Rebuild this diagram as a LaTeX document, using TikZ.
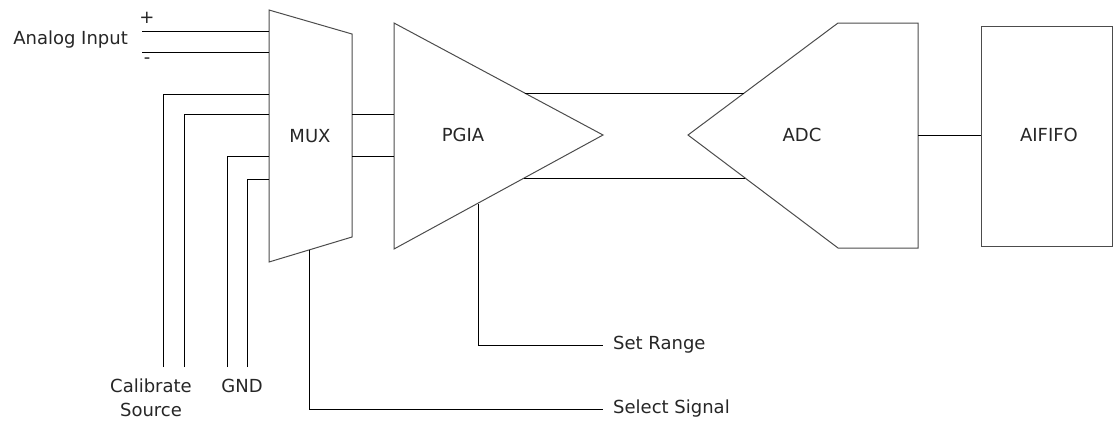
\documentclass[tikz,border=0pt]{standalone}
\usepackage{fontspec}
\setmainfont{DejaVu Sans}
\begin{document}
\begin{tikzpicture}[x=1pt,y=-1pt,
  shapeline/.style={draw=black!70, line width=1pt, line join=miter},
  wire/.style={draw=black, line width=1pt},
  lbl/.style={font=\fontsize{18}{24}\selectfont, text=black!85, inner sep=0pt}]
\useasboundingbox (0,0) rectangle (1113,421);

% MUX
\draw[shapeline] (269,10) -- (352,34) -- (352,237) -- (269,262) -- cycle;
\node[lbl] (mux) at (310,136) {MUX};
% PGIA
\draw[shapeline] (394,23) -- (603,135) -- (394,249) -- cycle;
\node[lbl] (pgia) at (463,135) {PGIA};
% ADC
\draw[shapeline] (688,135) -- (838,23) -- (918,23) -- (918,248) -- (838,248) -- cycle;
\node[lbl] (adc) at (802,135) {ADC};
% AIFIFO
\draw[shapeline] (981,26) rectangle (1112,246);
\node[lbl] (aififo) at (1049,135) {AIFIFO};

% labels
\node[lbl, anchor=east] (ain) at (128,40) {Analog Input};
\node[lbl] (plus) at (147,18) {+};
\node[lbl] (minus) at (147,61) {-};
\node[lbl, align=center] (cal) at (151,398) {Calibrate\\Source};
\node[lbl] (gnd) at (242,386) {GND};
\node[lbl, anchor=west] (setr) at (613,345) {Set Range};
\node[lbl, anchor=west] (sels) at (613,409) {Select Signal};

% coordinates
\coordinate (ainP) at (142,31);  \coordinate (muxP) at (269,31);
\coordinate (ainM) at (142,52);  \coordinate (muxM) at (269,52);
\coordinate (calA) at (163,367); \coordinate (muxCA) at (269,94);
\coordinate (calB) at (184,367); \coordinate (muxCB) at (269,114);
\coordinate (gndA) at (227,367); \coordinate (muxGA) at (269,156);
\coordinate (gndB) at (247,367); \coordinate (muxGB) at (269,179);
\coordinate (muxO1) at (352,114); \coordinate (pgiaI1) at (394,114);
\coordinate (muxO2) at (352,156); \coordinate (pgiaI2) at (394,156);
\coordinate (pgiaT) at (525,93);  \coordinate (adcT) at (744,93);
\coordinate (pgiaB) at (524,178); \coordinate (adcB) at (745,178);
\coordinate (adcO) at (918,135);  \coordinate (fifoI) at (981,135);
\coordinate (pgiaR) at (478,204); \coordinate (setrE) at (603,345);
\coordinate (muxS) at (309,250);  \coordinate (selsE) at (603,409);

% wires
\draw[wire] (ainP) -- (muxP);
\draw[wire] (ainM) -- (muxM);
\draw[wire] (calA) |- (muxCA);
\draw[wire] (calB) |- (muxCB);
\draw[wire] (gndA) |- (muxGA);
\draw[wire] (gndB) |- (muxGB);
\draw[wire] (muxO1) -- (pgiaI1);
\draw[wire] (muxO2) -- (pgiaI2);
\draw[wire] (pgiaT) -- (adcT);
\draw[wire] (pgiaB) -- (adcB);
\draw[wire] (adcO) -- (fifoI);
\draw[wire] (pgiaR) |- (setrE);
\draw[wire] (muxS) |- (selsE);
\end{tikzpicture}
\end{document}
